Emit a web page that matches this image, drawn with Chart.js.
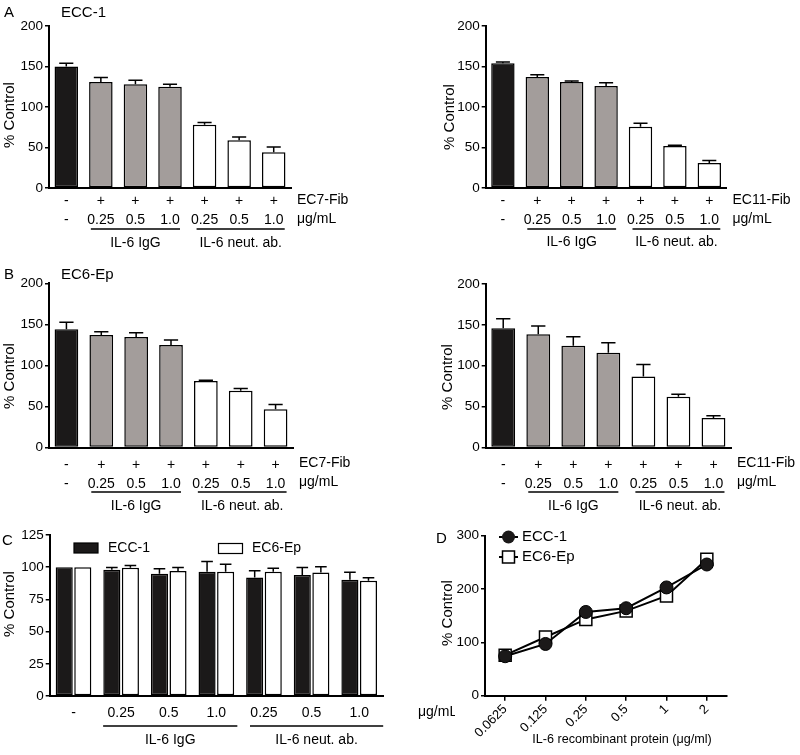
<!DOCTYPE html>
<html><head><meta charset="utf-8">
<script src="https://cdn.jsdelivr.net/npm/chart.js@4.4.1/dist/chart.umd.min.js"></script>
<style>
html,body{margin:0;padding:0;background:#fff}
#wrap{position:relative;width:800px;height:755px;overflow:hidden;background:#fff}
#wrap div{position:absolute}
canvas{display:block}
</style></head><body>
<div id="wrap">
<div style="left:0;top:0"><canvas id="cA1" width="400" height="262"></canvas></div>
<div style="left:400px;top:0"><canvas id="cA2" width="400" height="262"></canvas></div>
<div style="left:0;top:262px"><canvas id="cB1" width="400" height="258"></canvas></div>
<div style="left:400px;top:262px"><canvas id="cB2" width="400" height="258"></canvas></div>
<div style="left:0;top:520px"><canvas id="cC" width="455" height="235"></canvas></div>
<div style="left:430px;top:520px"><canvas id="cD" width="370" height="235"></canvas></div>
</div>
<script>
// ---------- data ----------
const treatmentLabels = [['-','-'],['+','0.25'],['+','0.5'],['+','1.0'],['+','0.25'],['+','0.5'],['+','1.0']];
const groupNames = ['IL-6 IgG','IL-6 neut. ab.'];

const a1Values = [150,131,128,125,78,59,44];
const a1Errors = [4,5.5,5,3,3,4,6.5];
const a2Values = [154,137,131,126,75.5,52,31];
const a2Errors = [1.5,2.8,1.2,3.8,4.5,0.8,3];
const b1Values = [144,137,134.5,125,81,69,46.5];
const b1Errors = [8.5,4,5.3,6,1,2.8,6];
const b2Values = [146,138.5,124.5,116,87,62,36];
const b2Errors = [11.5,10,11,12,14.5,3.2,2.8];

const cLabels = ['-','0.25','0.5','1.0','0.25','0.5','1.0'];
const cECC1 = [100,98,95,96.5,92,94,90.3];
const cECC1Err = [0,1.7,3.8,8,5.3,5.8,5.7];
const cEC6 = [100,99.5,97,96.5,96.5,95.8,89.5];
const cEC6Err = [0,1.8,2.8,5.7,2.6,4.5,2.4];

const dLabels = ['0.0625','0.125','0.25','0.5','1','2'];
const dECC1 = [74,97,157,164,203,246];
const dEC6 = [76,110,143,159,187,256];

// ---------- styles ----------
const FONT = "'Liberation Sans', Arial, Helvetica, sans-serif";
Chart.defaults.font.family = FONT;
Chart.defaults.color = '#000';
const BLACK = '#1b1919', GRAY = '#a39d9b', WHITE = '#ffffff';
const barColors = [BLACK, GRAY, GRAY, GRAY, WHITE, WHITE, WHITE];

function txt(ctx, s, x, y, size, align, rot) {
  ctx.save();
  ctx.font = size + 'px ' + FONT;
  ctx.fillStyle = '#000';
  ctx.textAlign = align || 'left';
  ctx.textBaseline = 'middle';
  ctx.translate(x, y);
  if (rot) ctx.rotate(rot);
  ctx.fillText(s, 0, 0);
  ctx.restore();
}
function hline(ctx, x1, x2, y, w) {
  ctx.save(); ctx.strokeStyle = '#000'; ctx.lineWidth = w || 1.5;
  ctx.beginPath(); ctx.moveTo(x1, y); ctx.lineTo(x2, y); ctx.stroke(); ctx.restore();
}

const errorBarPlugin = {
  id: 'errorBars',
  afterDatasetsDraw(chart) {
    const ctx = chart.ctx, y = chart.scales.y;
    chart.data.datasets.forEach((ds, di) => {
      if (!ds.errors) return;
      const meta = chart.getDatasetMeta(di);
      meta.data.forEach((bar, i) => {
        const e = ds.errors[i];
        if (!e) return;
        const top = y.getPixelForValue(ds.data[i] + e);
        const cap = bar.width * (ds.capFactor || 0.3);
        ctx.save(); ctx.strokeStyle = '#000'; ctx.lineWidth = 1.5;
        ctx.beginPath();
        ctx.moveTo(bar.x, bar.y); ctx.lineTo(bar.x, top);
        ctx.moveTo(bar.x - cap, top); ctx.lineTo(bar.x + cap, top);
        ctx.stroke(); ctx.restore();
      });
    });
  }
};

function yScaleOpts(max, step, L) {
  return {
    min: 0, max: max,
    ticks: { stepSize: step, color: '#000', font: { size: 13.5 }, padding: 2 },
    grid: { drawOnChartArea: false, drawTicks: true, tickLength: 4, color: '#000', lineWidth: 1.5 },
    border: { display: true, color: '#000', width: 2 },
    afterFit(s) { s.width = L; }
  };
}

function makeBarPanel(c) {
  const L = c.area.l - c.ox, T = c.area.t - c.oy, R = c.area.r - c.ox, B = c.area.b - c.oy;
  const annot = {
    id: 'annot',
    afterDraw(chart) {
      const ctx = chart.ctx, xs = chart.scales.x;
      ctx.save(); ctx.translate(-c.ox, -c.oy);
      const px = i => xs.getPixelForTick(i) + c.ox;
      if (c.letter) txt(ctx, c.letter, 4, c.titleY, 15);
      if (c.title) txt(ctx, c.title, 61, c.titleY, 15);
      txt(ctx, '% Control', c.yTitle[0], c.yTitle[1], 15, 'center', -Math.PI / 2);
      const rx = c.area.r + 6;
      txt(ctx, c.fib, rx, c.rows[0], 14);
      txt(ctx, 'μg/mL', rx, c.rows[1], 14);
      const x1a = px(1) - 10, x1b = px(3) + 10, x2a = px(4) - 8, x2b = px(6) + 11;
      hline(ctx, x1a, x1b, c.rows[2], 1.5);
      hline(ctx, x2a, x2b, c.rows[2], 1.5);
      txt(ctx, groupNames[0], (x1a + x1b) / 2, c.rows[3], 14, 'center');
      txt(ctx, groupNames[1], (x2a + x2b) / 2, c.rows[3], 14, 'center');
      ctx.restore();
    }
  };
  new Chart(document.getElementById(c.id), {
    type: 'bar',
    data: { labels: treatmentLabels, datasets: [{ data: c.values, errors: c.errors, capFactor: 0.3,
      backgroundColor: barColors, borderColor: '#000', borderWidth: 1.5, borderSkipped: false,
      barPercentage: 0.68, categoryPercentage: 1 }] },
    options: {
      responsive: false, animation: false, devicePixelRatio: 1,
      layout: { padding: { left: 0, top: T, right: c.W - R, bottom: 0 } },
      plugins: { legend: { display: false }, tooltip: { enabled: false } },
      scales: {
        x: { grid: { display: false }, border: { display: true, color: '#000', width: 2 },
             ticks: { color: '#000', font: { size: 14, lineHeight: 19 / 14 }, padding: c.pad, maxRotation: 0, autoSkip: false },
             afterFit(s) { s.height = c.H - B; } },
        y: yScaleOpts(200, 50, L)
      }
    },
    plugins: [errorBarPlugin, annot]
  });
}

makeBarPanel({ id: 'cA1', ox: 0, oy: 0, W: 400, H: 262, area: { l: 49, t: 26, r: 291, b: 188 },
  values: a1Values, errors: a1Errors, letter: 'A', title: 'ECC-1', titleY: 13, yTitle: [10, 115],
  fib: 'EC7-Fib', rows: [200, 219, 229, 243], pad: -4 });
makeBarPanel({ id: 'cA2', ox: 400, oy: 0, W: 400, H: 262, area: { l: 485.7, t: 26, r: 726.5, b: 188 },
  values: a2Values, errors: a2Errors, titleY: 13, yTitle: [450, 117],
  fib: 'EC11-Fib', rows: [200, 219, 229, 242], pad: -4 });
makeBarPanel({ id: 'cB1', ox: 0, oy: 262, W: 400, H: 258, area: { l: 49, t: 283.3, r: 293, b: 447.5 },
  values: b1Values, errors: b1Errors, letter: 'B', title: 'EC6-Ep', titleY: 275, yTitle: [10, 376],
  fib: 'EC7-Fib', rows: [463, 482, 492, 506], pad: 0 });
makeBarPanel({ id: 'cB2', ox: 400, oy: 262, W: 400, H: 258, area: { l: 485.7, t: 284, r: 731, b: 447.5 },
  values: b2Values, errors: b2Errors, titleY: 275, yTitle: [448, 377],
  fib: 'EC11-Fib', rows: [463, 482, 492, 506], pad: 0 });

// ---------- Panel C ----------
(function () {
  const ox = 0, oy = 520, W = 455, H = 235;
  const area = { l: 49.7, t: 535, r: 383, b: 696 };
  const annot = {
    id: 'annotC',
    afterDraw(chart) {
      const ctx = chart.ctx, xs = chart.scales.x;
      ctx.save(); ctx.translate(-ox, -oy);
      const px = i => xs.getPixelForTick(i) + ox;
      txt(ctx, 'C', 2, 541, 15);
      txt(ctx, '% Control', 10, 604, 15, 'center', -Math.PI / 2);
      // legend
      const ds = chart.data.datasets;
      ctx.fillStyle = ds[0].backgroundColor; ctx.fillRect(74, 543, 24, 10);
      ctx.strokeStyle = '#000'; ctx.lineWidth = 1.2; ctx.strokeRect(74, 543, 24, 10);
      txt(ctx, ds[0].label, 108, 548, 14);
      ctx.fillStyle = ds[1].backgroundColor; ctx.fillRect(218.5, 543.5, 24, 10);
      ctx.strokeRect(218.5, 543.5, 24, 10);
      txt(ctx, ds[1].label, 252, 548, 14);
      txt(ctx, 'μg/mL', 418, 712, 14);
      const x1a = px(1) - 18, x1b = px(3) + 21, x2a = px(4) - 14, x2b = px(6) + 24;
      hline(ctx, x1a, x1b, 726, 1.5);
      hline(ctx, x2a, x2b, 726, 1.5);
      txt(ctx, groupNames[0], (x1a + x1b) / 2, 740, 14, 'center');
      txt(ctx, groupNames[1], (x2a + x2b) / 2, 740, 14, 'center');
      ctx.restore();
    }
  };
  const L = area.l - ox, T = area.t - oy, R = area.r - ox, B = area.b - oy;
  new Chart(document.getElementById('cC'), {
    type: 'bar',
    data: { labels: cLabels, datasets: [
      { label: 'ECC-1', data: cECC1, errors: cECC1Err, capFactor: 0.34, backgroundColor: BLACK, borderColor: '#000',
        borderWidth: 1.5, borderSkipped: false, categoryPercentage: 0.78, barPercentage: 0.92 },
      { label: 'EC6-Ep', data: cEC6, errors: cEC6Err, capFactor: 0.34, backgroundColor: WHITE, borderColor: '#000',
        borderWidth: 1.5, borderSkipped: false, categoryPercentage: 0.78, barPercentage: 0.92 }
    ] },
    options: {
      responsive: false, animation: false, devicePixelRatio: 1,
      layout: { padding: { left: 0, top: T, right: W - R, bottom: 0 } },
      plugins: { legend: { display: false }, tooltip: { enabled: false } },
      scales: {
        x: { grid: { display: false }, border: { display: true, color: '#000', width: 2 },
             ticks: { color: '#000', font: { size: 14 }, padding: 1, maxRotation: 0, autoSkip: false },
             afterFit(s) { s.height = H - B; } },
        y: yScaleOpts(125, 25, L)
      }
    },
    plugins: [errorBarPlugin, annot]
  });
})();

// ---------- Panel D ----------
(function () {
  const ox = 430, oy = 520, W = 370, H = 235;
  const area = { l: 485, t: 535.7, r: 727, b: 695.7 };
  const L = area.l - ox, T = area.t - oy, R = area.r - ox, B = area.b - oy;
  const annot = {
    id: 'annotD',
    afterDraw(chart) {
      const ctx = chart.ctx;
      ctx.save(); ctx.translate(-ox, -oy);
      txt(ctx, 'D', 436, 539, 15);
      txt(ctx, '% Control', 448, 613, 15, 'center', -Math.PI / 2);
      txt(ctx, 'IL-6 recombinant protein (μg/ml)', 622, 740, 12.6, 'center');
      // legend
      hline(ctx, 499, 518, 537, 2);
      ctx.beginPath(); ctx.arc(508.5, 537, 6.5, 0, Math.PI * 2); ctx.fillStyle = BLACK; ctx.fill();
      txt(ctx, chart.data.datasets[0].label, 522, 537, 15);
      hline(ctx, 499, 518, 557, 2);
      ctx.fillStyle = '#fff'; ctx.fillRect(502.5, 551, 12, 12);
      ctx.strokeStyle = '#000'; ctx.lineWidth = 1.5; ctx.strokeRect(502.5, 551, 12, 12);
      txt(ctx, chart.data.datasets[1].label, 522, 557, 15);
      ctx.restore();
    }
  };
  new Chart(document.getElementById('cD'), {
    type: 'line',
    data: { labels: dLabels, datasets: [
      { label: 'ECC-1', data: dECC1, borderColor: '#000', borderWidth: 2, tension: 0, fill: false,
        pointStyle: 'circle', pointRadius: 6.5, pointBackgroundColor: BLACK, pointBorderColor: '#000', pointBorderWidth: 1 },
      { label: 'EC6-Ep', data: dEC6, borderColor: '#000', borderWidth: 2, tension: 0, fill: false,
        pointStyle: 'rect', pointRadius: 8.5, pointBackgroundColor: '#fff', pointBorderColor: '#000', pointBorderWidth: 1.5 }
    ] },
    options: {
      responsive: false, animation: false, devicePixelRatio: 1,
      layout: { padding: { left: 0, top: T, right: W - R, bottom: 0 } },
      plugins: { legend: { display: false }, tooltip: { enabled: false } },
      scales: {
        x: { offset: true, grid: { display: true, drawOnChartArea: false, drawTicks: true, tickLength: 5, color: '#000', lineWidth: 1.5 },
             border: { display: true, color: '#000', width: 2 },
             ticks: { color: '#000', font: { size: 13 }, padding: 1, maxRotation: 45, minRotation: 45, autoSkip: false },
             afterFit(s) { s.height = H - B; } },
        y: yScaleOpts(300, 100, L)
      }
    },
    plugins: [annot]
  });
})();
</script>
</body></html>
